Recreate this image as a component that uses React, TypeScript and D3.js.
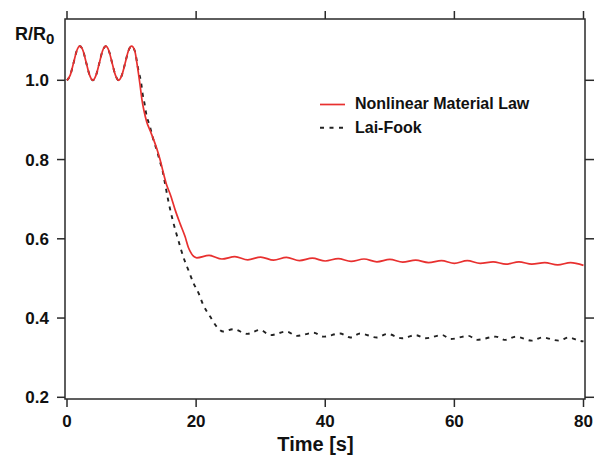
import React from "react";
import * as d3 from "d3";

const xTicks = [0, 20, 40, 60, 80];
const yTicks = [0.2, 0.4, 0.6, 0.8, 1.0];
const xTickLabels = ["0", "20", "40", "60", "80"];
const yTickLabels = ["0.2", "0.4", "0.6", "0.8", "1.0"];
const seriesNames = ["Nonlinear Material Law", "Lai-Fook"];

// Nonlinear Material Law (red)
const redT = [0,0.5,1,1.5,2,2.5,3,3.5,4,4.5,5,5.5,6,6.5,7,7.5,8,8.5,9,9.5,10,10.5,10.9,11.3,11.6,11.9,12.35,12.85,13.4,13.9,14.4,14.9,15.45,16.0,16.75,17.5,18.3,18.8,19.3,20.1,22,24,26,28,30,32,34,36,38,40,42,44,46,48,50,52,54,56,58,60,62,64,66,68,70,72,74,76,78,80];
const redR = [1.000,1.013,1.043,1.074,1.086,1.074,1.043,1.013,1.000,1.013,1.043,1.074,1.086,1.074,1.043,1.013,1.000,1.013,1.043,1.074,1.086,1.074,1.036,0.990,0.952,0.925,0.895,0.874,0.851,0.828,0.801,0.768,0.735,0.712,0.673,0.639,0.605,0.578,0.562,0.552,0.558,0.549,0.555,0.547,0.554,0.546,0.553,0.545,0.551,0.544,0.550,0.543,0.549,0.542,0.548,0.541,0.546,0.540,0.545,0.538,0.545,0.538,0.542,0.536,0.542,0.536,0.540,0.534,0.540,0.533];

// Lai-Fook (black dashed)
const blackT = [0,0.5,1,1.5,2,2.5,3,3.5,4,4.5,5,5.5,6,6.5,7,7.5,8,8.5,9,9.5,10,10.5,11.05,11.5,11.7,12.0,12.25,12.85,13.4,13.9,14.4,14.8,15.2,15.7,16.5,17.3,18.0,18.8,19.6,20.4,21.1,22.2,23.2,24.2,25.8,27.9,29.9,31.5,34.0,35.6,38.2,39.7,42.3,43.9,45.4,48.0,49.6,51.9,54.0,55.5,58.1,59.4,62.2,63.5,66.4,67.9,69.5,72.0,73.6,76.2,77.7,79.3,80];
const blackR = [1.000,1.013,1.043,1.074,1.086,1.074,1.043,1.013,1.000,1.013,1.043,1.074,1.086,1.074,1.043,1.013,1.000,1.013,1.043,1.074,1.086,1.074,1.026,0.992,0.967,0.942,0.917,0.883,0.849,0.824,0.795,0.772,0.738,0.695,0.639,0.593,0.555,0.521,0.488,0.462,0.433,0.403,0.378,0.366,0.372,0.360,0.370,0.357,0.366,0.355,0.363,0.353,0.361,0.351,0.361,0.351,0.360,0.349,0.357,0.349,0.357,0.347,0.355,0.345,0.353,0.345,0.353,0.343,0.351,0.343,0.351,0.343,0.341];

const W = 598, H = 458;
const frame = { left: 65, right: 585, top: 19, bottom: 399 };
const FONT = "'Liberation Sans', Arial, Helvetica, sans-serif";
const RED = "#e8302f";
const AXIS = "#2a2a2a";

export default function App() {
  const x = d3.scaleLinear().domain([0, 80]).range([67, 583.5]);
  const y = d3.scaleLinear().domain([0.2, 1.0]).range([397.3, 80.3]);
  const line = d3
    .line<[number, number]>()
    .x((d) => x(d[0]))
    .y((d) => y(d[1]))
    .curve(d3.curveMonotoneX);
  const redData = redT.map((t, i) => [t, redR[i]] as [number, number]);
  const blackData = blackT.map((t, i) => [t, blackR[i]] as [number, number]);

  return (
    <svg
      width={W}
      height={H}
      style={{ position: "absolute", left: 0, top: 0, background: "#fff" }}
      fontFamily={FONT}
    >
      <rect x={0} y={0} width={W} height={H} fill="#fff" />
      {/* frame */}
      <rect
        x={frame.left}
        y={frame.top}
        width={frame.right - frame.left}
        height={frame.bottom - frame.top}
        fill="none"
        stroke={AXIS}
        strokeWidth={1.5}
      />
      {/* x ticks bottom & top */}
      {xTicks.map((t, i) => (
        <g key={"xt" + i}>
          <line x1={x(t)} x2={x(t)} y1={frame.bottom} y2={frame.bottom + 8} stroke={AXIS} strokeWidth={1.5} />
          <line x1={x(t)} x2={x(t)} y1={frame.top} y2={frame.top - 8} stroke={AXIS} strokeWidth={1.5} />
          <text x={x(t)} y={427} textAnchor="middle" fontSize={17} fontWeight="bold" fill="#111">
            {xTickLabels[i]}
          </text>
        </g>
      ))}
      {/* y ticks left & right */}
      {yTicks.map((t, i) => (
        <g key={"yt" + i}>
          <line x1={frame.left - 8} x2={frame.left} y1={y(t)} y2={y(t)} stroke={AXIS} strokeWidth={1.5} />
          <line x1={frame.right} x2={frame.right + 9} y1={y(t)} y2={y(t)} stroke={AXIS} strokeWidth={1.5} />
          <text x={49} y={y(t) + 6} textAnchor="end" fontSize={17} fontWeight="bold" fill="#111">
            {yTickLabels[i]}
          </text>
        </g>
      ))}
      {/* axis titles */}
      <text x={315.5} y={451} textAnchor="middle" fontSize={20} fontWeight="bold" fill="#111">
        Time [s]
      </text>
      <text x={15} y={40} fontSize={18} fontWeight="bold" fill="#111">
        R/R
        <tspan fontSize={15} dy={3.5}>0</tspan>
      </text>
      {/* series */}
      <path d={line(blackData) || ""} fill="none" stroke="#222" strokeWidth={1.9} strokeDasharray="4,5" />
      <path d={line(redData) || ""} fill="none" stroke={RED} strokeWidth={1.7} />
      {/* legend */}
      <line x1={320} x2={345} y1={104.5} y2={104.5} stroke={RED} strokeWidth={1.7} />
      <text x={355} y={109} fontSize={16} fontWeight="bold" fill="#111">
        {seriesNames[0]}
      </text>
      <line x1={320} x2={346} y1={127.7} y2={127.7} stroke="#222" strokeWidth={1.9} strokeDasharray="4,5.5" />
      <text x={355} y={132.5} fontSize={16} fontWeight="bold" fill="#111">
        {seriesNames[1]}
      </text>
    </svg>
  );
}
